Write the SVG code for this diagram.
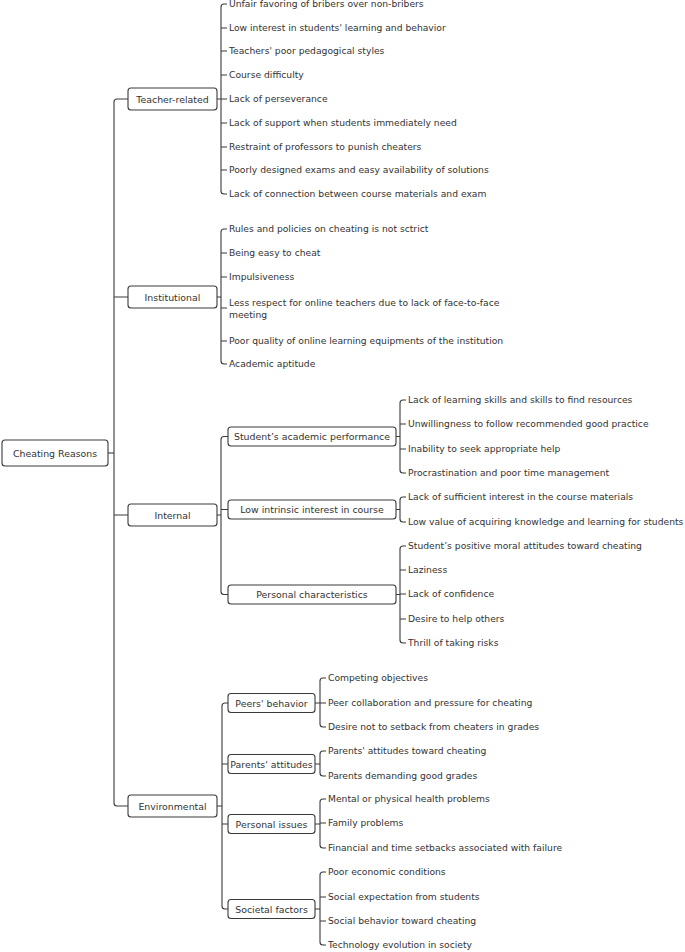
<svg xmlns="http://www.w3.org/2000/svg" width="685" height="952" viewBox="0 0 685 952">
<style>
.box{fill:#fff;stroke:#3a3a3a;stroke-width:1.1}
.bt{font-family:"DejaVu Sans",sans-serif;font-size:9.4px;fill:#333;text-anchor:middle}
.lt{font-family:"DejaVu Sans",sans-serif;font-size:9.2px;fill:#333}
.ln{fill:none;stroke:#3a3a3a;stroke-width:1.1}
</style>
<rect width="685" height="952" fill="#fff"/>
<g id="connectors">
<path class="ln" d="M108,453 H114"/>
<path class="ln" d="M128,99 H117 A3,3 0 0 0 114,102 V803 A3,3 0 0 0 117,806 H128 M114,297 H128 M114,515 H128"/>
<path class="ln" d="M217,99 H221 M227,4 H224 A3,3 0 0 0 221,7 V191 A3,3 0 0 0 224,194 H227 M221,28 H227 M221,51 H227 M221,75 H227 M221,99 H227 M221,123 H227 M221,147 H227 M221,170 H227"/>
<path class="ln" d="M217,297 H221 M227,229 H224 A3,3 0 0 0 221,232 V361 A3,3 0 0 0 224,364 H227 M221,253 H227 M221,277 H227 M221,308 H227 M221,341 H227"/>
<path class="ln" d="M217,515 H221 M228,436.5 H224 A3,3 0 0 0 221,439.5 V591.5 A3,3 0 0 0 224,594.5 H228 M221,509.5 H228"/>
<path class="ln" d="M396,436.5 H400 M406,400 H403 A3,3 0 0 0 400,403 V470 A3,3 0 0 0 403,473 H406 M400,424 H406 M400,449 H406"/>
<path class="ln" d="M396,509.5 H400 M406,497 H403 A3,3 0 0 0 400,500 V519 A3,3 0 0 0 403,522 H406"/>
<path class="ln" d="M396,594.5 H400 M406,546 H403 A3,3 0 0 0 400,549 V640 A3,3 0 0 0 403,643 H406 M400,570 H406 M400,594 H406 M400,619 H406"/>
<path class="ln" d="M217,806 H222 M228,703 H225 A3,3 0 0 0 222,706 V906 A3,3 0 0 0 225,909 H228 M222,764 H228 M222,824 H228"/>
<path class="ln" d="M315,703 H320 M326,678 H323 A3,3 0 0 0 320,681 V724 A3,3 0 0 0 323,727 H326 M320,703 H326"/>
<path class="ln" d="M315,764 H320 M326,751 H323 A3,3 0 0 0 320,754 V773 A3,3 0 0 0 323,776 H326"/>
<path class="ln" d="M315,824 H320 M326,799 H323 A3,3 0 0 0 320,802 V845 A3,3 0 0 0 323,848 H326 M320,823 H326"/>
<path class="ln" d="M315,909 H320 M326,872 H323 A3,3 0 0 0 320,875 V942 A3,3 0 0 0 323,945 H326 M320,897 H326 M320,921 H326"/>
</g>
<g id="root"><rect class="box" x="2" y="440" width="106" height="26" rx="3"/><text class="bt" x="55" y="456.5">Cheating Reasons</text></g>
<g id="teacher"><rect class="box" x="128" y="88" width="89" height="22" rx="3"/><text class="bt" x="172.5" y="102.5">Teacher-related</text></g>
<g id="institutional"><rect class="box" x="128" y="286" width="89" height="22" rx="3"/><text class="bt" x="172.5" y="300.5">Institutional</text></g>
<g id="internal"><rect class="box" x="128" y="504" width="89" height="22" rx="3"/><text class="bt" x="172.5" y="518.5">Internal</text></g>
<g id="environmental"><rect class="box" x="128" y="795" width="89" height="22" rx="3"/><text class="bt" x="172.5" y="809.5">Environmental</text></g>
<g id="academic"><rect class="box" x="228" y="427" width="168" height="19" rx="3"/><text class="bt" x="312" y="440">Student’s academic performance</text></g>
<g id="intrinsic"><rect class="box" x="228" y="500" width="168" height="19" rx="3"/><text class="bt" x="312" y="513">Low intrinsic interest in course</text></g>
<g id="personalchar"><rect class="box" x="228" y="585" width="168" height="19" rx="3"/><text class="bt" x="312" y="598">Personal characteristics</text></g>
<g id="peers"><rect class="box" x="228" y="693.5" width="87" height="19" rx="3"/><text class="bt" x="271.5" y="706.5">Peers' behavior</text></g>
<g id="parents"><rect class="box" x="228" y="754.5" width="87" height="19" rx="3"/><text class="bt" x="271.5" y="767.5">Parents' attitudes</text></g>
<g id="personalissues"><rect class="box" x="228" y="814.5" width="87" height="19" rx="3"/><text class="bt" x="271.5" y="827.5">Personal issues</text></g>
<g id="societal"><rect class="box" x="228" y="899.5" width="87" height="19" rx="3"/><text class="bt" x="271.5" y="912.5">Societal factors</text></g>
<g id="teacher-leaves">
<text class="lt" x="229" y="7.3">Unfair favoring of bribers over non-bribers</text>
<text class="lt" x="229" y="31.3">Low interest in students' learning and behavior</text>
<text class="lt" x="229" y="54.3">Teachers' poor pedagogical styles</text>
<text class="lt" x="229" y="78.3">Course difficulty</text>
<text class="lt" x="229" y="102.3">Lack of perseverance</text>
<text class="lt" x="229" y="126.3">Lack of support when students immediately need</text>
<text class="lt" x="229" y="150.3">Restraint of professors to punish cheaters</text>
<text class="lt" x="229" y="173.3">Poorly designed exams and easy availability of solutions</text>
<text class="lt" x="229" y="197.3">Lack of connection between course materials and exam</text>
</g>
<g id="institutional-leaves">
<text class="lt" x="229" y="232.3">Rules and policies on cheating is not sctrict</text>
<text class="lt" x="229" y="256.3">Being easy to cheat</text>
<text class="lt" x="229" y="280.3">Impulsiveness</text>
<text class="lt" x="229" y="306.3">Less respect for online teachers due to lack of face-to-face</text>
<text class="lt" x="229" y="318.3">meeting</text>
<text class="lt" x="229" y="344.3">Poor quality of online learning equipments of the institution</text>
<text class="lt" x="229" y="367.3">Academic aptitude</text>
</g>
<g id="internal-leaves">
<text class="lt" x="408" y="403.3">Lack of learning skills and skills to find resources</text>
<text class="lt" x="408" y="427.3">Unwillingness to follow recommended good practice</text>
<text class="lt" x="408" y="452.3">Inability to seek appropriate help</text>
<text class="lt" x="408" y="476.3">Procrastination and poor time management</text>
<text class="lt" x="408" y="500.3">Lack of sufficient interest in the course materials</text>
<text class="lt" x="408" y="525.3">Low value of acquiring knowledge and learning for students</text>
<text class="lt" x="408" y="549.3">Student’s positive moral attitudes toward cheating</text>
<text class="lt" x="408" y="573.3">Laziness</text>
<text class="lt" x="408" y="597.3">Lack of confidence</text>
<text class="lt" x="408" y="622.3">Desire to help others</text>
<text class="lt" x="408" y="646.3">Thrill of taking risks</text>
</g>
<g id="environmental-leaves">
<text class="lt" x="328" y="681.3">Competing objectives</text>
<text class="lt" x="328" y="706.3">Peer collaboration and pressure for cheating</text>
<text class="lt" x="328" y="730.3">Desire not to setback from cheaters in grades</text>
<text class="lt" x="328" y="754.3">Parents' attitudes toward cheating</text>
<text class="lt" x="328" y="779.3">Parents demanding good grades</text>
<text class="lt" x="328" y="802.3">Mental or physical health problems</text>
<text class="lt" x="328" y="826.3">Family problems</text>
<text class="lt" x="328" y="851.3">Financial and time setbacks associated with failure</text>
<text class="lt" x="328" y="875.3">Poor economic conditions</text>
<text class="lt" x="328" y="900.3">Social expectation from students</text>
<text class="lt" x="328" y="924.3">Social behavior toward cheating</text>
<text class="lt" x="328" y="948.3">Technology evolution in society</text>
</g>
</svg>
